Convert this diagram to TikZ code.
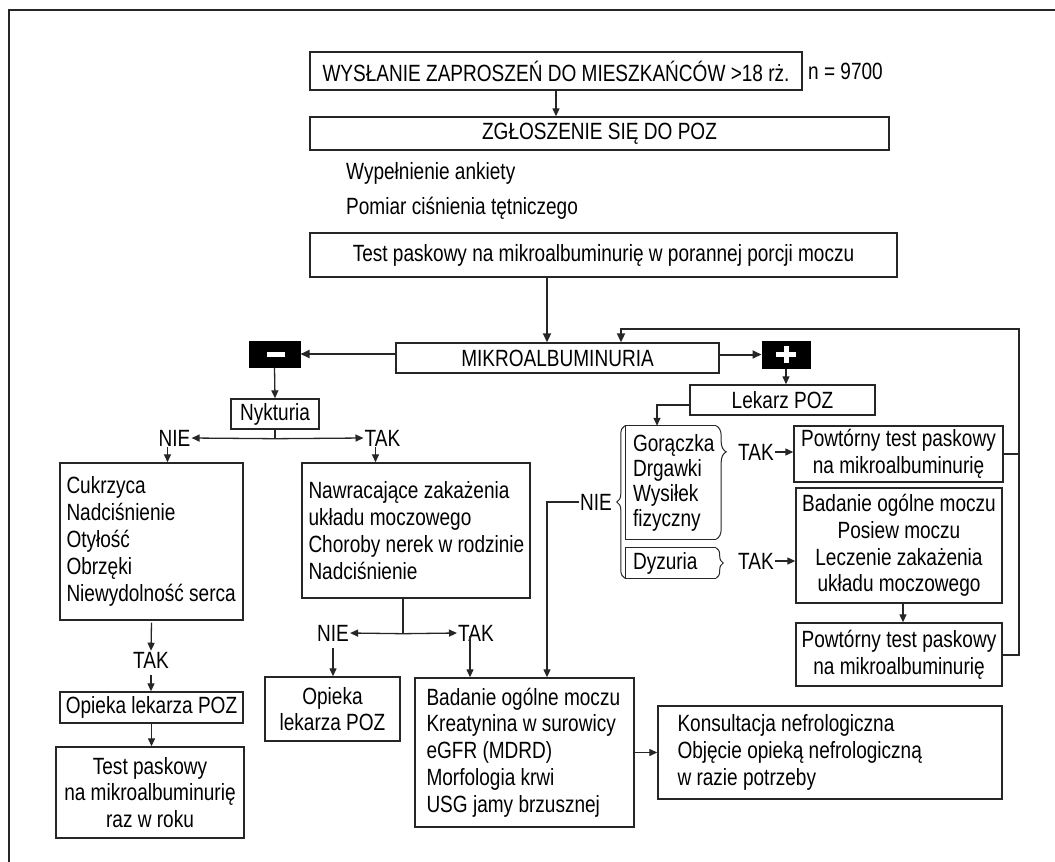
\documentclass[tikz,border=0pt]{standalone}
\usepackage{fontspec}
\setmainfont{Liberation Sans}[FakeStretch=0.81]
\usetikzlibrary{arrows.meta,decorations.pathreplacing,calc}
\tikzset{
  bx/.style={draw=black!85, line width=1.4pt, inner sep=0pt, align=center},
  bxe/.style={draw=black!85, line width=1.4pt, inner sep=0pt},
  hid/.style={inner sep=0pt},
  txt/.style={inner sep=0pt, align=left, anchor=west},
  lbl/.style={inner sep=1pt},
  blk/.style={fill=black, draw=black, line width=1pt, inner sep=0pt},
  arr/.style={draw=black!85, line width=1.3pt, -{Triangle[length=8pt,width=7pt]}},
  arrb/.style={draw=black!85, line width=2pt, -{Triangle[length=9pt,width=8pt]}},
  ln/.style={draw=black!85, line width=1.3pt},
  lnb/.style={draw=black!85, line width=2pt},
  brc/.style={draw=black!85, line width=1pt, decorate},
}
\begin{document}
\begin{tikzpicture}[x=1pt, y=-1pt, font=\fontsize{23.5pt}{26.8pt}\selectfont]
\useasboundingbox (0,0) rectangle (1055,862);
% outer frame (cropped)
\draw[line width=2pt, black!85] (8,10) -- (1055,10);
\draw[line width=2pt, black!85] (9,10) -- (9,862);

% top part
\node[bx, minimum width=492pt, minimum height=38pt] (wys) at (556,71) {WYSŁANIE ZAPROSZEŃ DO MIESZKAŃCÓW >18 rż.};
\node[lbl, anchor=west] (n) at (807,71) {n = 9700};
\node[bx, minimum width=579pt, minimum height=33pt] (zgl) at (599.5,133.5) {ZGŁOSZENIE SIĘ DO POZ};
\node[lbl, anchor=west] (wyp) at (345,173) {Wypełnienie ankiety};
\node[lbl, anchor=west] (pom) at (345,208) {Pomiar ciśnienia tętniczego};
\node[bx, minimum width=587pt, minimum height=44pt] (test) at (603.5,255) {Test paskowy na mikroalbuminurię w porannej porcji moczu};
\node[bx, minimum width=323pt, minimum height=30pt] (mikro) at (557.5,358) {MIKROALBUMINURIA};
\node[blk, minimum width=51pt, minimum height=26pt] (minus) at (274.5,354) {};
\node[blk, minimum width=48pt, minimum height=27pt] (plus) at (786,354.5) {};
\fill[white] (267,351.5) rectangle (285,356.5);
\fill[white] (776,352) rectangle (796,357);
\fill[white] (783.5,346) rectangle (788.5,363);

% left branch
\node[bx, minimum width=88pt, minimum height=30pt] (nyk) at (275,414) {Nykturia};
\node[lbl] (nie1) at (174.5,438) {NIE};
\node[lbl] (tak1) at (382.5,438) {TAK};
\node[bxe, minimum width=183pt, minimum height=157pt] (cuk) at (151.5,541.5) {};
\node[txt] (cukt) at ([xshift=7pt]cuk.west) {Cukrzyca\\Nadciśnienie\\Otyłość\\Obrzęki\\Niewydolność serca};
\node[bxe, minimum width=228pt, minimum height=135pt] (naw) at (416,530.5) {};
\node[txt] (nawt) at ([xshift=7pt]naw.west) {Nawracające zakażenia\\układu moczowego\\Choroby nerek w rodzinie\\Nadciśnienie};
\node[lbl] (tak3) at (151,660) {TAK};
\node[bx, minimum width=183pt, minimum height=31pt] (opk1) at (151.5,707.5) {Opieka lekarza POZ};
\node[bx, minimum width=188pt, minimum height=91pt] (tp1) at (150,792.5) {Test paskowy\\na mikroalbuminurię\\raz w roku};
\node[lbl] (nie2) at (333,633) {NIE};
\node[lbl] (tak2) at (476,633) {TAK};
\node[bx, minimum width=135pt, minimum height=64pt] (opk2) at (332.5,709) {Opieka\\lekarza POZ};
\node[bxe, minimum width=219pt, minimum height=149pt] (bad) at (524.5,752.5) {};
\node[txt] (badt) at ([xshift=12pt]bad.west) {Badanie ogólne moczu\\Kreatynina w surowicy\\eGFR (MDRD)\\Morfologia krwi\\USG jamy brzusznej};
\node[bxe, minimum width=344pt, minimum height=93pt] (kons) at (830,752.5) {};
\node[txt] (konst) at ([xshift=20pt]kons.west) {Konsultacja nefrologiczna\\Objęcie opieką nefrologiczną\\w razie potrzeby};

% right branch
\node[bx, minimum width=185pt, minimum height=30pt] (lek) at (782.5,400) {Lekarz POZ};
\node[hid, minimum width=90pt, minimum height=113pt] (gor) at (671,482.5) {};
\node[txt, font=\fontsize{23.5pt}{25pt}\selectfont] (gort) at ([xshift=7pt]gor.west) {Gorączka\\Drgawki\\Wysiłek\\fizyczny};
\node[hid, minimum width=90pt, minimum height=30pt] (dyz) at (671,563) {};
\node[txt] (dyzt) at ([xshift=7pt]dyz.west) {Dyzuria};
\draw[ln] (gor.north east) -- (gor.north west) -- (gor.south west) -- (gor.south east);
\draw[ln] (dyz.north east) -- (dyz.north west) -- (dyz.south west) -- (dyz.south east);
\draw[brc, decoration={brace, amplitude=10pt, aspect=0.23}] (gor.north east) -- (gor.south east);
\draw[brc, decoration={brace, amplitude=7pt}] (dyz.north east) -- (dyz.south east);
\draw[brc, decoration={brace, amplitude=8pt}] ([xshift=-1pt]dyz.south west) -- ([xshift=-1pt]gor.north west);
\node[lbl] (nie3) at (596,502) {NIE};
\node[lbl] (tak4) at (756,452) {TAK};
\node[lbl] (tak5) at (756,561) {TAK};
\node[bx, minimum width=209pt, minimum height=56pt] (pow1) at (898.5,454) {Powtórny test paskowy\\na mikroalbuminurię};
\node[bx, minimum width=206pt, minimum height=115pt] (lecz) at (899,545.5) {Badanie ogólne moczu\\Posiew moczu\\Leczenie zakażenia\\układu moczowego};
\node[bx, minimum width=206pt, minimum height=63pt] (pow2) at (899,654.5) {Powtórny test paskowy\\na mikroalbuminurię};
\coordinate (lp) at (1019,329);

% connectors top
\draw[arr] (wys.south) -- (wys.south |- zgl.north);
\draw[arrb] ([xshift=-56.5pt]test.south) -- ([xshift=-56.5pt]test.south |- mikro.north);
\draw[arrb] (mikro.west |- minus.east) -- (minus.east);
\draw[arrb] (mikro.east |- plus.west) -- (plus.west);
\draw[lnb] (pow1.east) -- (pow1.east -| lp);
\draw[arrb] (pow2.east) -| (lp) -| ([xshift=63.5pt]mikro.north);

% connectors left
\draw[arr] (minus.south) -- (nyk.north);
\draw[ln] (nyk.south) -- ++(0,9) coordinate (nb);
\draw[arr] (nb) -- (nie1.east);
\draw[arr] (nb) -- (tak1.west);
\draw[arr] ([xshift=-7pt]nie1.south) -- ([xshift=-7pt]nie1.south |- cuk.north);
\draw[arr] ([xshift=-7pt]tak1.south) -- ([xshift=-7pt]tak1.south |- naw.north);
\draw[arr] (cuk.south) ++(0,2) -- (tak3.north);
\draw[arr] ([yshift=-6pt]tak3.south) -- (tak3.south |- opk1.north);
\draw[arr] (opk1.south) -- (opk1.south |- tp1.north);
\draw[ln] ([xshift=-13pt]naw.south) -- ++(0,35) coordinate (nb2);
\draw[arr] (nb2) -- (nie2.east);
\draw[arr] (nb2) -- (tak2.west);
\draw[arr] (nie2.south) ++(0,6) -- (nie2.south |- opk2.north);
\draw[arr] ([xshift=-6pt,yshift=6pt]tak2.south) -- ([xshift=-6pt]tak2.south |- bad.north);
\draw[arr] (bad.east) -- (kons.west);

% connectors right
\draw[arr] (plus.south) -- (plus.south |- lek.north);
\draw[arr] ([yshift=-5pt]lek.west) -| ([xshift=-14pt]gor.north);
\draw[arr] (nie3.west) -| ([xshift=22.5pt]bad.north);
\draw[arr] (tak4.east) -- (tak4.east -| pow1.west);
\draw[arr] (tak5.east) -- (tak5.east -| lecz.west);
\draw[arr] ([xshift=4pt]lecz.south) -- ([xshift=4pt]lecz.south |- pow2.north);
\end{tikzpicture}
\end{document}
